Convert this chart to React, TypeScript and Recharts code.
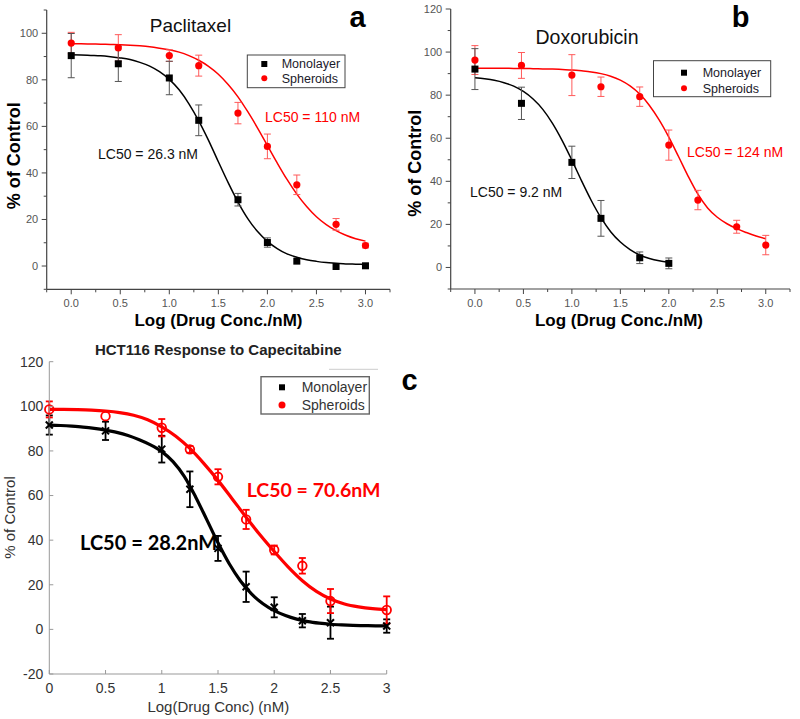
import React from 'react';
import { ComposedChart, Line, Scatter, XAxis, YAxis, ErrorBar } from 'recharts';

// ---------- Panel a : Paclitaxel ----------
const paclitaxelLogConc = [0, 0.48, 1, 1.3, 1.7, 2, 2.3, 2.7, 3];
const paclitaxelMono = [90.4, 86.9, 80.8, 62.6, 28.5, 10.1, 2.1, -0.2, 0.1];
const paclitaxelMonoErr = [9.5, 7.6, 7.2, 6.6, 2.7, 2.0, null, null, null];
const paclitaxelSph = [95.8, 93.7, 90.4, 86.1, 65.7, 51.4, 34.9, 17.9, 8.8];
const paclitaxelSphErr = [4.6, 5.7, 2.5, 4.5, 4.6, 5.3, 4.2, 2.5, 1.0];

const fitX = [0, 0.1, 0.2, 0.3, 0.4, 0.5, 0.6, 0.7, 0.8, 0.9, 1, 1.1, 1.2, 1.3, 1.4, 1.5, 1.6, 1.7, 1.8, 1.9, 2, 2.1, 2.2, 2.3, 2.4, 2.5, 2.6, 2.7, 2.8, 2.9, 3];
const paclitaxelMonoFit = [90.8, 90.7, 90.5, 90.3, 89.9, 89.4, 88.7, 87.5, 85.9, 83.5, 80.2, 75.7, 69.7, 62.4, 54.0, 44.8, 35.8, 27.5, 20.4, 14.8, 10.6, 7.5, 5.2, 3.8, 2.7, 2.0, 1.5, 1.2, 0.9, 0.8, 0.7];
const paclitaxelSphFit = [95.5, 95.5, 95.4, 95.3, 95.2, 95.1, 94.9, 94.6, 94.2, 93.6, 92.9, 91.9, 90.4, 88.4, 85.8, 82.4, 78.0, 72.7, 66.3, 59.3, 51.8, 44.3, 37.2, 30.9, 25.6, 21.2, 17.8, 15.2, 13.2, 11.7, 10.7];

// ---------- Panel b : Doxorubicin ----------
const doxMonoLogConc = [0, 0.48, 1, 1.3, 1.7, 2];
const doxMono = [92.1, 76.2, 48.8, 22.8, 4.5, 1.9];
const doxMonoErr = [9.5, 7.5, 7.5, 8.3, 2.7, 2.5];
const doxSphLogConc = [0, 0.48, 1, 1.3, 1.7, 2, 2.3, 2.7, 3];
const doxSph = [96.3, 93.8, 89.3, 83.9, 79.3, 56.8, 31.3, 18.9, 10.4];
const doxSphErr = [6.7, 6.0, 9.5, 4.5, 4.5, 7.0, 4.5, 3.0, 4.5];

const doxMonoFitX = [0, 0.1, 0.2, 0.3, 0.4, 0.5, 0.6, 0.7, 0.8, 0.9, 1, 1.1, 1.2, 1.3, 1.4, 1.5, 1.6, 1.7, 1.8, 1.9, 2];
const doxMonoFit = [88.1, 87.6, 86.9, 85.8, 84.2, 81.7, 78.2, 73.4, 66.9, 58.9, 49.8, 40.2, 31.1, 23.1, 16.6, 11.8, 8.3, 5.8, 4.2, 3.1, 2.4];
const doxSphFit = [92.5, 92.5, 92.5, 92.5, 92.4, 92.4, 92.3, 92.2, 92.1, 91.9, 91.7, 91.3, 90.8, 90.0, 88.8, 87.0, 84.3, 80.5, 75.2, 68.5, 60.5, 51.5, 42.3, 34.0, 27.6, 23.3, 20.3, 18.0, 16.2, 14.6, 13.3];

// ---------- Panel c : Capecitabine ----------
const capLogConc = [0, 0.5, 1, 1.25, 1.5, 1.75, 2, 2.25, 2.5, 3];
const capMono = [91.6, 89.0, 80.8, 62.8, 36.3, 19.1, 9.9, 3.9, 3.0, 1.5];
const capMonoErr = [4.3, 4.1, 6.0, 8.0, 5.6, 6.8, 4.5, 3.0, 7.2, 3.0];
const capSph = [98.6, 95.6, 90.4, 80.7, 68.4, 49.3, 35.6, 28.5, 12.7, 8.7];
const capSphErr = [3.6, null, 3.9, 1.5, 3.4, 4.3, 2.0, 3.5, 5.4, 6.1];

const capMonoFit = [91.6, 91.4, 91.1, 90.7, 90.1, 89.3, 88.3, 86.9, 85.0, 82.7, 79.7, 75.2, 68.6, 59.5, 49.2, 38.8, 29.4, 21.7, 15.8, 11.5, 8.4, 6.2, 4.6, 3.5, 2.8, 2.3, 2.0, 1.8, 1.7, 1.6, 1.6];
const capSphFitX = [0, 0.125, 0.25, 0.375, 0.5, 0.625, 0.75, 0.875, 1, 1.125, 1.25, 1.375, 1.5, 1.625, 1.75, 1.875, 2, 2.125, 2.25, 2.375, 2.5, 2.625, 2.75, 2.875, 3];
const capSphFit = [98.6, 98.6, 98.5, 98.3, 97.9, 97.2, 96.0, 94.0, 90.8, 86.6, 81.1, 74.3, 66.8, 58.6, 50.3, 42.3, 34.9, 27.9, 21.8, 17.0, 13.6, 11.4, 10.1, 9.3, 8.9];

// ---------- tick lists ----------
const originXTicks = [-0.25, 0, 0.25, 0.5, 0.75, 1, 1.25, 1.5, 1.75, 2, 2.25, 2.5, 2.75, 3, 3.25];
const aYTicks = [-10, 0, 10, 20, 30, 40, 50, 60, 70, 80, 90, 100, 110];
const bYTicks = [-10, 0, 10, 20, 30, 40, 50, 60, 70, 80, 90, 100, 110, 120];
const cXTicks = [0, 0.5, 1, 1.5, 2, 2.5, 3];
const cYTicks = [-20, 0, 20, 40, 60, 80, 100, 120];

const pts = (xs: number[], ys: number[], es?: (number | null)[]) =>
  xs.map((x, i) => ({ x, y: ys[i], e: es ? es[i] : null }));

const ARIAL = 'Liberation Sans, Arial, sans-serif';
const AX = '#444';
const RED = '#ff0000';

// Origin-style ticks (outward, with minor ticks)
const originXTick = (props: any) => {
  const { x, y, payload } = props;
  const v = payload.value as number;
  const major = Math.abs(v * 2 - Math.round(v * 2)) < 1e-6 && v >= 0 && v <= 3;
  return (
    <g>
      <line x1={x} x2={x} y1={y} y2={y + (major ? 5 : 3)} stroke={AX} strokeWidth={1} />
      {major && (
        <text x={x} y={y + 14} dy="0.35em" textAnchor="middle" fontSize={11} fill="#555" fontFamily={ARIAL}>
          {v.toFixed(1)}
        </text>
      )}
    </g>
  );
};
const originYTick = (props: any) => {
  const { x, y, payload } = props;
  const v = payload.value as number;
  const major = v % 20 === 0 && v >= 0;
  return (
    <g>
      <line x1={x} x2={x - (major ? 5 : 3)} y1={y} y2={y} stroke={AX} strokeWidth={1} />
      {major && (
        <text x={x - 8.5} y={y} dy="0.35em" textAnchor="end" fontSize={11} fill="#555" fontFamily={ARIAL}>
          {v}
        </text>
      )}
    </g>
  );
};

// MATLAB-style ticks (inward)
const MT = '#999';
const matBottomTick = (props: any) => {
  const { x, y, payload } = props;
  return (
    <g>
      <line x1={x} x2={x} y1={y} y2={y - 4} stroke={MT} />
      <text x={x} y={y + 14} dy="0.35em" textAnchor="middle" fontSize={14} fill="#333" fontFamily={ARIAL}>
        {payload.value}
      </text>
    </g>
  );
};
const matTopTick = (props: any) => {
  const { x, y } = props;
  return <line x1={x} x2={x} y1={y} y2={y + 4} stroke={MT} />;
};
const matLeftTick = (props: any) => {
  const { x, y, payload } = props;
  return (
    <g>
      <line x1={x} x2={x + 4} y1={y} y2={y} stroke={MT} />
      <text x={x - 6} y={y} dy="0.35em" textAnchor="end" fontSize={14} fill="#333" fontFamily={ARIAL}>
        {payload.value}
      </text>
    </g>
  );
};
const matRightTick = (props: any) => {
  const { x, y } = props;
  return <line x1={x} x2={x - 4} y1={y} y2={y} stroke={MT} />;
};

// marker shapes
const Square = (p: any) => <rect x={p.cx - 3.5} y={p.cy - 3.5} width={7} height={7} fill="#000" />;
const Dot = (p: any) => <circle cx={p.cx} cy={p.cy} r={3.6} fill={RED} />;
const Cross = (p: any) => (
  <g stroke="#000" strokeWidth={2}>
    <line x1={p.cx - 3.5} y1={p.cy - 3.5} x2={p.cx + 3.5} y2={p.cy + 3.5} />
    <line x1={p.cx - 3.5} y1={p.cy + 3.5} x2={p.cx + 3.5} y2={p.cy - 3.5} />
  </g>
);
const OpenCircle = (p: any) => <circle cx={p.cx} cy={p.cy} r={4.3} fill="none" stroke={RED} strokeWidth={1.8} />;

const OriginPanel = (props: {
  margin: any; yWidth: number; xHeight: number; yDomain: number[]; yTicks: number[];
  monoX: number[]; mono: number[]; monoErr: (number | null)[];
  sphX: number[]; sph: number[]; sphErr: (number | null)[];
  monoFitX: number[]; monoFit: number[]; sphFitX: number[]; sphFit: number[];
}) => (
  <ComposedChart width={400} height={330} margin={props.margin}>
    <XAxis type="number" dataKey="x" domain={[-0.25, 3.25]} ticks={originXTicks} interval={0}
      tick={originXTick} tickLine={false} tickSize={0} tickMargin={0}
      axisLine={{ stroke: AX, strokeWidth: 1.2 }} height={props.xHeight} />
    <YAxis type="number" dataKey="y" domain={props.yDomain} ticks={props.yTicks} interval={0}
      tick={originYTick} tickLine={false} tickSize={0} tickMargin={0}
      axisLine={{ stroke: AX, strokeWidth: 1.2 }} width={props.yWidth} />
    <Line data={pts(props.sphFitX, props.sphFit)} dataKey="y" type="monotone" dot={false}
      stroke={RED} strokeWidth={1.5} isAnimationActive={false} />
    <Line data={pts(props.monoFitX, props.monoFit)} dataKey="y" type="monotone" dot={false}
      stroke="#000" strokeWidth={1.5} isAnimationActive={false} />
    <Scatter data={pts(props.sphX, props.sph, props.sphErr)} shape={Dot} fill={RED} isAnimationActive={false}>
      <ErrorBar dataKey="e" direction="y" width={3.5} stroke="#ff5a5a" strokeWidth={1} />
    </Scatter>
    <Scatter data={pts(props.monoX, props.mono, props.monoErr)} shape={Square} fill="#000" isAnimationActive={false}>
      <ErrorBar dataKey="e" direction="y" width={3.5} stroke="#555" strokeWidth={1} />
    </Scatter>
  </ComposedChart>
);

const LegendBox = (p: { x: number; y: number; w: number; h: number; mx: number; tx: number; r1: number; r2: number; fs: number; big?: boolean }) => (
  <g fontFamily={ARIAL}>
    <rect x={p.x} y={p.y} width={p.w} height={p.h} fill="#fff" stroke={p.big ? '#666' : '#444'} strokeWidth={p.big ? 1.4 : 1} />
    <rect x={p.mx - 3} y={p.r1 - 3} width={6} height={6} fill="#000" />
    <circle cx={p.mx} cy={p.r2} r={p.big ? 3.5 : 3} fill={RED} />
    <text x={p.tx} y={p.r1} dy="0.35em" fontSize={p.fs} fill={p.big ? '#333' : '#1a1a2a'}>Monolayer</text>
    <text x={p.tx} y={p.r2} dy="0.35em" fontSize={p.fs} fill={p.big ? '#333' : '#1a1a2a'}>Spheroids</text>
  </g>
);

export default function App() {
  return (
    <div style={{ position: 'absolute', left: 0, top: 0, width: 800, height: 719, background: '#fff', overflow: 'hidden' }}>
      <div style={{ position: 'absolute', left: 0, top: 0 }}>
        <OriginPanel margin={{ top: 10, right: 10, left: 0, bottom: 0 }} yWidth={46.7} xHeight={40.7}
          yDomain={[-10, 110]} yTicks={aYTicks}
          monoX={paclitaxelLogConc} mono={paclitaxelMono} monoErr={paclitaxelMonoErr}
          sphX={paclitaxelLogConc} sph={paclitaxelSph} sphErr={paclitaxelSphErr}
          monoFitX={fitX} monoFit={paclitaxelMonoFit} sphFitX={fitX} sphFit={paclitaxelSphFit} />
      </div>
      <div style={{ position: 'absolute', left: 400, top: 0 }}>
        <OriginPanel margin={{ top: 9, right: 10, left: 0, bottom: 0 }} yWidth={50.7} xHeight={41}
          yDomain={[-10, 120]} yTicks={bYTicks}
          monoX={doxMonoLogConc} mono={doxMono} monoErr={doxMonoErr}
          sphX={doxSphLogConc} sph={doxSph} sphErr={doxSphErr}
          monoFitX={doxMonoFitX} monoFit={doxMonoFit} sphFitX={fitX} sphFit={doxSphFit} />
      </div>
      <div style={{ position: 'absolute', left: 0, top: 340 }}>
        <ComposedChart width={400} height={379} margin={{ top: 21.7, right: 13.3, left: 0, bottom: 0 }}>
          <XAxis type="number" dataKey="x" domain={[0, 3]} ticks={cXTicks} interval={0}
            tick={matBottomTick} tickLine={false} tickSize={0} tickMargin={0}
            axisLine={{ stroke: MT, strokeWidth: 1 }} height={45} />
          <XAxis xAxisId={1} orientation="top" type="number" dataKey="x" domain={[0, 3]} ticks={cXTicks} interval={0}
            tick={matTopTick} tickLine={false} tickSize={0} tickMargin={0}
            axisLine={{ stroke: MT, strokeWidth: 1 }} height={0} />
          <YAxis type="number" dataKey="y" domain={[-20, 120]} ticks={cYTicks} interval={0}
            tick={matLeftTick} tickLine={false} tickSize={0} tickMargin={0}
            axisLine={{ stroke: MT, strokeWidth: 1 }} width={49.3} />
          <YAxis yAxisId={1} orientation="right" type="number" dataKey="y" domain={[-20, 120]} ticks={cYTicks}
            interval={0} tick={matRightTick} tickLine={false} tickSize={0} tickMargin={0}
            axisLine={{ stroke: MT, strokeWidth: 1 }} width={0} />
          <Line data={pts(capSphFitX, capSphFit)} dataKey="y" type="monotone" dot={false}
            stroke={RED} strokeWidth={3.2} isAnimationActive={false} />
          <Line data={pts(fitX, capMonoFit)} dataKey="y" type="monotone" dot={false}
            stroke="#000" strokeWidth={3.2} isAnimationActive={false} />
          <Scatter data={pts(capLogConc, capMono, capMonoErr)} shape={Cross} fill="#000" isAnimationActive={false}>
            <ErrorBar dataKey="e" direction="y" width={3.5} stroke="#000" strokeWidth={1.8} />
          </Scatter>
          <Scatter data={pts(capLogConc, capSph, capSphErr)} shape={OpenCircle} fill={RED} isAnimationActive={false}>
            <ErrorBar dataKey="e" direction="y" width={3.5} stroke={RED} strokeWidth={1.8} />
          </Scatter>
        </ComposedChart>
      </div>

      <svg width={800} height={719} style={{ position: 'absolute', left: 0, top: 0, pointerEvents: 'none' }}>
        {/* panel a */}
        <g fontFamily={ARIAL}>
          <text x={190.5} y={25} dy="0.35em" textAnchor="middle" fontSize={19} fill="#111">Paclitaxel</text>
          <text x={357.5} y={27} textAnchor="middle" fontSize={29} fontWeight="bold" fill="#000">a</text>
          <text x={265} y={117} dy="0.35em" fontSize={14} fill={RED}>LC50 = 110 nM</text>
          <text x={98} y={154} dy="0.35em" fontSize={14} fill="#111">LC50 = 26.3 nM</text>
          <text transform="translate(13.5,155.8) rotate(-90)" textAnchor="middle" dy="0.35em" fontSize={18} fontWeight="bold" fill="#000">% of Control</text>
          <text x={218.5} y={320} dy="0.35em" textAnchor="middle" fontSize={17} fontWeight="bold" fill="#000">Log (Drug Conc./nM)</text>
        </g>
        <LegendBox x={247.3} y={55} w={97.7} h={32.7} mx={264.3} tx={281.7} r1={64} r2={78.3} fs={12.5} />

        {/* panel b */}
        <g fontFamily={ARIAL}>
          <text x={587} y={37.3} dy="0.35em" textAnchor="middle" fontSize={19.5} fill="#111">Doxorubicin</text>
          <text x={740.5} y={27.3} textAnchor="middle" fontSize={29} fontWeight="bold" fill="#000">b</text>
          <text x={687} y={151.7} dy="0.35em" fontSize={14} fill={RED}>LC50 = 124 nM</text>
          <text x={470} y={191.7} dy="0.35em" fontSize={14} fill="#111">LC50 = 9.2 nM</text>
          <text transform="translate(415,163.3) rotate(-90)" textAnchor="middle" dy="0.35em" fontSize={18} fontWeight="bold" fill="#000">% of Control</text>
          <text x={619} y={320} dy="0.35em" textAnchor="middle" fontSize={17} fontWeight="bold" fill="#000">Log (Drug Conc./nM)</text>
        </g>
        <LegendBox x={653.5} y={60.7} w={117.2} h={36} mx={684} tx={702.7} r1={72.7} r2={88.3} fs={12.5} />

        {/* panel c */}
        <g fontFamily={ARIAL}>
          <text x={218.3} y={349.3} dy="0.35em" textAnchor="middle" fontSize={15} fontWeight="bold" fill="#222">HCT116 Response to Capecitabine</text>
          <text x={409.5} y={390} textAnchor="middle" fontSize={29} fontWeight="bold" fill="#000">c</text>
          <text transform="translate(10,517.5) rotate(-90)" textAnchor="middle" dy="0.35em" fontSize={15} fill="#333">% of Control</text>
          <text x={218.3} y={707} dy="0.35em" textAnchor="middle" fontSize={15} fill="#333">Log(Drug Conc) (nM)</text>
          <line x1={329} x2={378} y1={369.3} y2={369.3} stroke="#ccc" strokeWidth={1} />
        </g>
        <g fontFamily="Lato, Liberation Sans, sans-serif" fontWeight="bold">
          <text x={246.7} y={490} dy="0.35em" fontSize={19.5} fill={RED}>LC50 = 70.6nM</text>
          <text x={80} y={543.3} dy="0.35em" fontSize={20} fill="#000">LC50 = 28.2nM</text>
        </g>
        <LegendBox x={261} y={376.7} w={108.3} h={37.3} mx={282} tx={301.7} r1={387.3} r2={405} fs={14} big />
      </svg>
    </div>
  );
}
